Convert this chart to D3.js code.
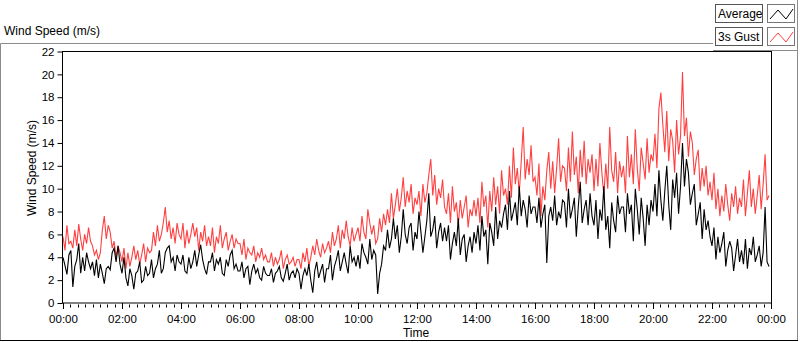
<!DOCTYPE html>
<html>
<head>
<meta charset="utf-8">
<script src="https://cdn.jsdelivr.net/npm/d3@7"></script>
<style>
  body { margin: 0; background: #fff; }
  svg { display: block; font-family: "Liberation Sans", Arial, sans-serif; }
</style>
</head>
<body>
<svg width="800" height="342"></svg>
<script>
// one sample every 4 minutes, rows = hours 00..23
const sampleMinutes = 4

const averageSpeed = [
  4.0, 3.3, 2.5, 4.2, 4.6, 1.4, 3.2, 3.8, 5.2, 2.6, 4.0, 2.8, 4.4, 3.6, 3.0,
  3.6, 2.4, 3.8, 2.2, 3.4, 2.6, 1.7, 3.0, 3.2, 2.9, 4.4, 4.8, 3.6, 5.0, 3.4,
  2.6, 4.0, 2.2, 1.5, 3.0, 2.4, 1.2, 2.6, 2.8, 3.6, 1.8, 2.0, 3.2, 2.4, 2.6,
  3.8, 2.2, 3.0, 3.4, 4.6, 2.6, 3.0, 4.4, 4.8, 5.0, 3.6, 4.0, 2.8, 4.2, 3.6,
  3.4, 4.2, 2.8, 2.6, 4.0, 3.0, 3.6, 4.6, 3.2, 4.2, 5.1, 3.8, 3.0, 2.5, 3.6,
  3.6, 4.4, 2.8, 3.8, 3.4, 4.0, 2.6, 2.4, 3.8, 3.2, 4.2, 4.6, 3.0, 3.4, 2.8,
  2.8, 3.6, 2.2, 3.0, 3.2, 1.6, 2.8, 3.4, 2.6, 3.0, 2.2, 2.0, 3.2, 2.6, 2.4,
  2.4, 3.0, 1.8, 2.6, 2.8, 3.2, 2.2, 1.9, 2.6, 3.4, 2.0, 2.6, 2.8, 2.2, 3.0,
  2.6, 1.2, 2.4, 3.0, 2.4, 3.4, 2.0, 0.9, 2.8, 3.6, 2.2, 2.8, 3.4, 1.8, 3.0,
  3.0, 4.2, 2.0, 3.2, 3.8, 4.6, 2.8, 3.6, 4.4, 3.4, 2.6, 5.0, 3.6, 4.0, 3.2,
  4.2, 3.0, 5.2, 4.4, 4.0, 3.4, 5.6, 3.8, 4.6, 4.2, 0.8, 2.6, 3.4, 5.0, 4.6,
  6.4, 4.8, 5.6, 7.4, 5.6, 6.8, 4.4, 5.8, 8.2, 6.0, 5.2, 6.6, 7.0, 4.6, 6.2,
  5.6, 8.0, 6.2, 4.4, 5.8, 7.2, 9.6, 5.8, 6.4, 7.6, 4.8, 6.2, 7.0, 5.4, 6.6,
  5.4, 6.8, 3.8, 5.2, 6.2, 5.0, 7.4, 4.2, 5.6, 6.0, 3.6, 5.0, 5.8, 4.4, 6.2,
  5.2, 6.8, 4.6, 7.6, 5.8, 6.4, 3.4, 7.0, 6.2, 5.0, 8.4, 5.6, 7.2, 6.6, 7.8,
  8.6, 6.4, 9.8, 7.2, 8.0, 8.8, 6.8, 10.2, 7.6, 9.0, 8.2, 6.6, 9.4, 7.8, 8.4,
  8.4, 7.0, 9.2, 6.6, 7.8, 8.6, 3.5, 7.6, 8.4, 7.2, 9.4, 6.8, 8.0, 7.4, 9.0,
  8.8, 6.6, 10.0, 7.4, 8.2, 9.2, 5.8, 8.4, 10.6, 7.0, 8.2, 9.0, 6.8, 9.6, 7.6,
  6.8, 9.0, 5.6, 8.2, 7.2, 10.2, 6.4, 7.6, 4.8, 8.8, 7.2, 6.2, 9.4, 7.8, 8.4,
  8.4, 6.2, 9.6, 7.8, 8.6, 5.4, 10.0, 8.2, 6.0, 9.2, 7.4, 5.0, 8.6, 6.8, 9.0,
  8.0, 10.4, 7.6, 11.6, 9.0, 7.2, 9.8, 12.0, 8.6, 6.4, 10.8, 9.2, 11.4, 7.8, 10.2,
  14.0, 10.2, 12.6, 11.4, 8.6, 9.6, 10.4, 6.8, 7.8, 8.8, 5.6, 8.2, 6.4, 7.2, 5.8,
  5.0, 6.6, 3.8, 5.8, 4.4, 5.2, 6.2, 3.2, 4.6, 5.4, 4.8, 2.8, 4.2, 5.6, 3.6,
  4.6, 3.4, 5.6, 3.0, 4.8, 4.2, 5.8, 3.6, 4.2, 5.0, 3.2, 4.4, 8.4, 3.6, 3.2
]

const gustSpeed = [
  5.8, 4.6, 6.8, 5.2, 5.4, 4.8, 6.4, 5.0, 6.9, 5.6, 4.6, 6.0, 5.2, 6.6, 5.4,
  5.0, 4.2, 4.6, 3.8, 4.4, 6.4, 7.6, 5.6, 6.8, 6.2, 4.8, 5.4, 4.0, 5.0, 4.4,
  3.6, 4.8, 3.0, 4.4, 3.2, 4.0, 5.0, 3.8, 4.6, 3.4, 4.2, 5.2, 3.6, 4.8, 4.4,
  4.6, 6.2, 5.0, 6.8, 5.4, 6.0, 7.0, 8.4, 6.2, 7.2, 5.6, 6.6, 5.2, 7.0, 6.0,
  5.6, 7.0, 4.8, 6.4, 5.2, 6.0, 7.0, 5.8, 6.6, 4.6, 6.2, 5.4, 6.8, 5.0, 5.8,
  5.0, 6.6, 4.4, 5.8, 5.2, 6.8, 4.8, 5.6, 6.2, 4.6, 5.4, 6.0, 4.8, 5.6, 5.2,
  5.2, 4.2, 5.6, 3.8, 4.8, 4.4, 4.2, 5.0, 3.6, 4.4, 4.0, 4.8, 3.8, 4.2, 3.6,
  3.6, 4.4, 3.2, 4.0, 3.4, 3.8, 4.6, 3.0, 3.8, 4.2, 3.4, 3.6, 4.0, 3.2, 3.8,
  3.8, 3.0, 4.4, 3.6, 4.8, 3.2, 4.0, 5.0, 4.2, 5.6, 4.6, 4.0, 5.2, 4.4, 4.8,
  5.4, 4.4, 6.2, 5.0, 5.6, 6.8, 4.8, 6.4, 5.6, 7.2, 5.8, 5.0, 6.6, 5.4, 6.0,
  6.6, 5.4, 7.6, 6.2, 5.6, 8.2, 7.0, 6.0, 6.8, 5.2, 5.6, 7.4, 6.2, 7.8, 6.8,
  8.2, 7.0, 9.6, 7.4, 8.6, 10.0, 8.0, 9.2, 11.0, 8.4, 9.8, 8.8, 10.4, 7.8, 9.2,
  8.6, 9.8, 7.6, 10.4, 8.8, 9.6, 11.2, 12.6, 9.4, 11.2, 8.6, 10.0, 9.2, 10.8, 8.4,
  7.8, 9.6, 7.0, 10.2, 8.0, 8.8, 6.8, 9.0, 7.4, 8.4, 9.4, 6.6, 8.2, 7.6, 9.0,
  7.6, 9.2, 7.0, 10.6, 8.4, 9.4, 6.6, 9.8, 8.0, 11.0, 8.6, 10.2, 7.8, 11.6, 9.4,
  10.0, 8.6, 12.0, 9.2, 13.6, 10.4, 11.8, 9.6, 12.4, 15.4, 10.8, 12.6, 11.2, 13.8, 10.6,
  11.0, 9.4, 12.2, 7.6, 10.2, 9.0, 11.6, 13.2, 10.0, 12.4, 9.6, 11.8, 14.4, 10.6, 12.0,
  11.8, 9.8, 13.6, 10.6, 15.0, 11.2, 12.8, 9.6, 13.4, 11.0, 14.2, 10.4, 12.6, 11.4, 13.0,
  9.8, 12.6, 10.2, 14.0, 11.4, 9.4, 12.2, 10.0, 15.4, 11.6, 10.6, 13.2, 9.6, 12.4, 11.0,
  12.0, 9.6, 14.6, 11.0, 13.0, 10.4, 15.2, 11.8, 9.8, 13.6, 12.2, 10.8, 14.4, 11.4, 13.0,
  12.4, 14.8, 11.8, 17.0, 18.4, 15.6, 13.2, 16.8, 12.4, 15.2, 14.2, 11.4, 16.0, 13.0, 14.6,
  20.2, 14.6, 16.2, 12.8, 15.0, 14.0, 11.2, 12.6, 13.4, 9.8, 11.8, 10.2, 12.0, 9.4, 10.6,
  9.0, 11.4, 8.2, 10.0, 7.6, 9.4, 8.0, 10.4, 8.6, 7.2, 9.6, 8.4, 10.2, 7.8, 9.2,
  8.4, 10.8, 7.6, 9.6, 11.6, 8.4, 10.0, 7.8, 9.4, 11.2, 8.2, 10.4, 13.0, 9.0, 9.4
]

const yTicks = [0, 2, 4, 6, 8, 10, 12, 14, 16, 18, 20, 22]
const xTickHours = [0, 2, 4, 6, 8, 10, 12, 14, 16, 18, 20, 22, 24]
const seriesNames = ["Average", "3s Gust"]
const seriesColors = ["#000000", "#ff4040"]

const svg = d3.select("svg")

// outer panel
svg.append("path")
  .attr("d", "M0.5,341 V43.5 H713 M713,50.5 H797.5 M797.5,0 V341")
  .attr("fill", "none").attr("stroke", "#8c8c8c")
svg.append("line")
  .attr("x1", 0).attr("x2", 798).attr("y1", 340.5).attr("y2", 340.5)
  .attr("stroke", "#000")

svg.append("text")
  .attr("x", 4).attr("y", 35)
  .attr("font-size", "12px")
  .text("Wind Speed (m/s)")

let plot = {left: 62.5, top: 51.5, right: 771.5, bottom: 303}

const x = d3.scaleLinear().domain([0, 24]).range([63, 771])
const y = d3.scaleLinear().domain([0, 22]).range([plot.bottom, plot.top])

svg.append("clipPath").attr("id", "clip")
  .append("rect")
  .attr("x", plot.left).attr("y", plot.top)
  .attr("width", plot.right - plot.left).attr("height", plot.bottom - plot.top)

const hourOf = i => i * sampleMinutes / 60
const line = d3.line()
  .x((d, i) => x(hourOf(i)))
  .y(d => y(d))

// gust first so the average sits on top
const lines = svg.append("g").attr("clip-path", "url(#clip)")
lines.append("path")
  .datum(gustSpeed)
  .attr("d", line)
  .attr("fill", "none")
  .attr("stroke", seriesColors[1])
  .attr("stroke-width", 1.1)
lines.append("path")
  .datum(averageSpeed)
  .attr("d", line)
  .attr("fill", "none")
  .attr("stroke", seriesColors[0])
  .attr("stroke-width", 1.1)

// plot frame
svg.append("rect")
  .attr("x", plot.left).attr("y", plot.top)
  .attr("width", plot.right - plot.left).attr("height", plot.bottom - plot.top)
  .attr("fill", "none").attr("stroke", "#000")

// y axis
const yAxis = svg.append("g")
  .attr("transform", `translate(${plot.left},0)`)
  .call(d3.axisLeft(y).tickValues(yTicks).tickSize(5).tickPadding(3))
yAxis.select(".domain").remove()
yAxis.selectAll("text").attr("font-size", "11.5px").attr("fill", "#000").attr("font-family", "Liberation Sans, Arial")

// x axis: minor ticks every 15 min
const minorHours = d3.range(0, 24.01, 0.25).filter(h => h % 2 !== 0)
svg.append("g")
  .attr("transform", `translate(0,${plot.bottom + 0.5})`)
  .selectAll("line")
  .data(minorHours)
  .enter().append("line")
  .attr("x1", d => Math.round(x(d)) + 0.5).attr("x2", d => Math.round(x(d)) + 0.5)
  .attr("y1", 1).attr("y2", 4)
  .attr("stroke", "#000")

const fmt = h => d3.format("02")(h % 24) + ":00"
const xAxis = svg.append("g")
  .attr("transform", `translate(0,${plot.bottom})`)
  .call(d3.axisBottom(x).tickValues(xTickHours).tickFormat(fmt).tickSize(6).tickPadding(6))
xAxis.select(".domain").remove()
xAxis.selectAll("text").attr("font-size", "11.5px").attr("fill", "#000").attr("font-family", "Liberation Sans, Arial")

svg.append("text")
  .attr("x", 416).attr("y", 337)
  .attr("text-anchor", "middle")
  .attr("font-size", "12px")
  .text("Time")

svg.append("text")
  .attr("transform", "translate(36,168) rotate(-90)")
  .attr("text-anchor", "middle")
  .attr("font-size", "12px")
  .text("Wind Speed (m/s)")

// legend
const legend = svg.selectAll(".legend")
  .data(seriesNames)
  .enter().append("g")
  .attr("class", "legend")
  .attr("transform", (d, i) => `translate(0,${4 + i * 23})`)

legend.append("rect")
  .attr("x", 715.5).attr("y", 0.5)
  .attr("width", 47).attr("height", 18)
  .attr("fill", "#fff").attr("stroke", "#555")
legend.append("text")
  .attr("x", 718).attr("y", 14)
  .attr("font-size", "12px")
  .text(d => d)
legend.append("rect")
  .attr("x", 767.5).attr("y", 0.5)
  .attr("width", 27).attr("height", 18)
  .attr("fill", "#fff").attr("stroke", "#777")
legend.append("path")
  .attr("d", "M770,15 L778,6 L786,15 L793,5")
  .attr("fill", "none")
  .attr("stroke", (d, i) => seriesColors[i])
</script>
</body>
</html>
